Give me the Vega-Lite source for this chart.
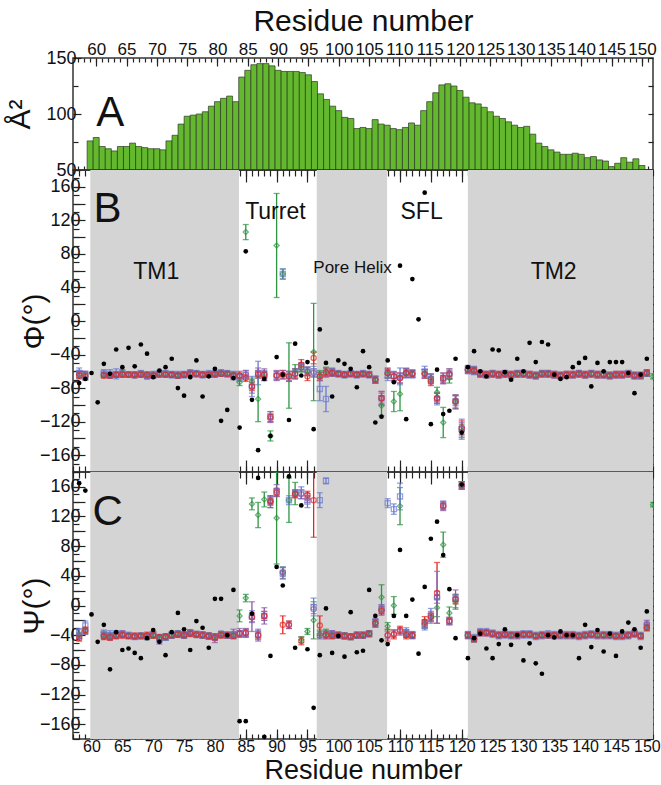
{
"$schema": "https://vega.github.io/schema/vega-lite/v6.json",
"padding": {"left": 4, "top": 5, "right": 0, "bottom": 0},
"spacing": 0,
"bounds": "flush",
"config": {
 "view": {"stroke": "#333", "strokeWidth": 1.5},
 "font": "Liberation Sans",
 "axis": {"domain": false, "grid": false, "tickColor": "#222", "tickWidth": 1.2, "labelFont": "Liberation Sans", "labelFontSize": 17, "labelColor": "#111", "titleFont": "Liberation Sans", "titleFontSize": 30, "titleFontWeight": "normal", "titleColor": "#111", "labelFlush": false, "labelOverlap": false}
},
"datasets": {
 "bars": [
{"r":59,"area":76},{"r":60,"area":79},{"r":61,"area":71},{"r":62,"area":69},{"r":63,"area":67},{"r":64,"area":71},{"r":65,"area":71},{"r":66,"area":74},{"r":67,"area":71},{"r":68,"area":70},{"r":69,"area":69},{"r":70,"area":69},{"r":71,"area":68},{"r":72,"area":76},{"r":73,"area":81},{"r":74,"area":91},{"r":75,"area":98},{"r":76,"area":99},{"r":77,"area":100},{"r":78,"area":102},{"r":79,"area":107},{"r":80,"area":111},{"r":81,"area":114},{"r":82,"area":116},{"r":83,"area":111},{"r":84,"area":133},{"r":85,"area":139},{"r":86,"area":144},{"r":87,"area":145},{"r":88,"area":145},{"r":89,"area":143},{"r":90,"area":139},{"r":91,"area":138},{"r":92,"area":138},{"r":93,"area":138},{"r":94,"area":137},{"r":95,"area":135},{"r":96,"area":129},{"r":97,"area":118},{"r":98,"area":113},{"r":99,"area":107},{"r":100,"area":103},{"r":101,"area":97},{"r":102,"area":96},{"r":103,"area":87},{"r":104,"area":88},{"r":105,"area":87},{"r":106,"area":95},{"r":107,"area":91},{"r":108,"area":90},{"r":109,"area":87},{"r":110,"area":86},{"r":111,"area":88},{"r":112,"area":92},{"r":113,"area":90},{"r":114,"area":103},{"r":115,"area":111},{"r":116,"area":119},{"r":117,"area":126},{"r":118,"area":127},{"r":119,"area":125},{"r":120,"area":121},{"r":121,"area":115},{"r":122,"area":110},{"r":123,"area":109},{"r":124,"area":106},{"r":125,"area":102},{"r":126,"area":98},{"r":127,"area":96},{"r":128,"area":93},{"r":129,"area":90},{"r":130,"area":88},{"r":131,"area":89},{"r":132,"area":82},{"r":133,"area":74},{"r":134,"area":71},{"r":135,"area":68},{"r":136,"area":66},{"r":137,"area":64},{"r":138,"area":64},{"r":139,"area":65},{"r":140,"area":64},{"r":141,"area":61},{"r":142,"area":62},{"r":143,"area":59},{"r":144,"area":58},{"r":145,"area":53},{"r":146,"area":56},{"r":147,"area":61},{"r":148,"area":57},{"r":149,"area":60},{"r":150,"area":54}
 ],
 "regions": [
{"name":"TM1","start":59.8,"end":83.9},{"name":"Pore Helix","start":96.5,"end":107.9},{"name":"TM2","start":121,"end":151}
 ],
 "ann": [
{"panel":"A","kind":"letter","t":"A","x":62.3,"y":101},
{"panel":"B","kind":"letter","t":"B","x":62.6,"y":134},
{"panel":"C","kind":"letter","t":"C","x":62.6,"y":126},
{"panel":"B","kind":"name","t":"Turret","x":89.8,"y":130},
{"panel":"B","kind":"name","t":"SFL","x":113.5,"y":130},
{"panel":"B","kind":"name","t":"TM1","x":70.5,"y":58},
{"panel":"B","kind":"name","t":"TM2","x":134.9,"y":58},
{"panel":"B","kind":"small","t":"Pore Helix","x":102.3,"y":63}
 ],
 "black": [
{"r":58,"phi":-74,"psi":165},{"r":59,"phi":-69,"psi":155},{"r":60,"phi":-62,"psi":-12},{"r":61,"phi":-97,"psi":-49},{"r":62,"phi":-51,"psi":-26},{"r":63,"phi":-63,"psi":-86},{"r":64,"phi":-34,"psi":-36},{"r":65,"phi":-55,"psi":-60},{"r":66,"phi":-32,"psi":-58},{"r":67,"phi":-54,"psi":-64},{"r":68,"phi":-28,"psi":-71},{"r":69,"phi":-39,"psi":-44},{"r":70,"phi":-67,"psi":-33},{"r":71,"phi":-59,"psi":-49},{"r":72,"phi":-55,"psi":-67},{"r":73,"phi":-45,"psi":-36},{"r":74,"phi":-80,"psi":-10},{"r":75,"phi":-89,"psi":-32},{"r":76,"phi":-67,"psi":-60},{"r":77,"phi":-47,"psi":-21},{"r":78,"phi":-90,"psi":-30},{"r":79,"phi":-66,"psi":-57},{"r":80,"phi":-57,"psi":9},{"r":81,"phi":-119,"psi":9},{"r":82,"phi":-106,"psi":-40},{"r":83,"phi":-68,"psi":21},{"r":84,"phi":-127,"psi":-156},{"r":85,"phi":83,"psi":-156},{"r":86,"phi":-94,"psi":-11},{"r":87,"phi":-154,"psi":172},{"r":88,"phi":-69,"psi":-177},{"r":89,"phi":-137,"psi":-68},{"r":90,"phi":-43,"psi":52},{"r":91,"phi":-64,"psi":27},{"r":92,"phi":-118,"psi":174},{"r":93,"phi":-27,"psi":-57},{"r":94,"phi":-65,"psi":135},{"r":95,"phi":-49,"psi":-59},{"r":96,"phi":-129,"psi":-138},{"r":97,"phi":-10,"psi":-67},{"r":98,"phi":-50,"psi":-4},{"r":99,"phi":-90,"psi":-64},{"r":100,"phi":-47,"psi":-41},{"r":101,"phi":-51,"psi":-69},{"r":102,"phi":-57,"psi":-9},{"r":103,"phi":-79,"psi":-63},{"r":104,"phi":-36,"psi":-61},{"r":105,"phi":-55,"psi":21},{"r":106,"phi":-121,"psi":-14},{"r":107,"phi":-114,"psi":-47},{"r":108,"phi":-47,"psi":-52},{"r":109,"phi":-73,"psi":-14},{"r":110,"phi":66,"psi":75},{"r":111,"phi":-117,"psi":-14},{"r":112,"phi":50,"psi":8},{"r":113,"phi":2,"psi":-65},{"r":114,"phi":153,"psi":25},{"r":115,"phi":-123,"psi":90},{"r":116,"phi":-58,"psi":113},{"r":117,"phi":-111,"psi":68},{"r":118,"phi":-107,"psi":22},{"r":119,"phi":-45,"psi":-44},{"r":120,"phi":-133,"psi":163},{"r":121,"phi":-55,"psi":-71},{"r":122,"phi":-36,"psi":-44},{"r":123,"phi":-60,"psi":-38},{"r":124,"phi":-66,"psi":-58},{"r":125,"phi":-34,"psi":-71},{"r":126,"phi":-35,"psi":-52},{"r":127,"phi":-61,"psi":-32},{"r":128,"phi":-70,"psi":-53},{"r":129,"phi":-45,"psi":-40},{"r":130,"phi":-60,"psi":-74},{"r":131,"phi":-26,"psi":-51},{"r":132,"phi":-49,"psi":-78},{"r":133,"phi":-25,"psi":-92},{"r":134,"phi":-28,"psi":-40},{"r":135,"phi":-64,"psi":-43},{"r":136,"phi":-69,"psi":-35},{"r":137,"phi":-67,"psi":-40},{"r":138,"phi":-55,"psi":-40},{"r":139,"phi":-50,"psi":-71},{"r":140,"phi":-44,"psi":-26},{"r":141,"phi":-78,"psi":-56},{"r":142,"phi":-50,"psi":-33},{"r":143,"phi":-60,"psi":-62},{"r":144,"phi":-49,"psi":-38},{"r":145,"phi":-49,"psi":-68},{"r":146,"phi":-49,"psi":-35},{"r":147,"phi":-62,"psi":-23},{"r":148,"phi":-86,"psi":-32},{"r":149,"phi":-64,"psi":-57},{"r":150,"phi":-45,"psi":-8}
 ],
 "series": [
{"r":58,"s":"g","phi":-64,"pe":4,"psi":-40,"qe":4},{"r":58,"s":"r","phi":-65,"pe":4,"psi":-44,"qe":4},{"r":58,"s":"b","phi":-62,"pe":6,"psi":-36,"qe":5},{"r":58,"s":"p","phi":-63,"pe":4,"psi":-41,"qe":4},
{"r":59,"s":"g","phi":-66,"pe":4,"psi":-34,"qe":4},{"r":59,"s":"r","phi":-66,"pe":4,"psi":-33,"qe":4},{"r":59,"s":"b","phi":-65,"pe":5,"psi":-27,"qe":6},{"r":59,"s":"p","phi":-64,"pe":4,"psi":-35,"qe":4},
{"r":62,"s":"g","phi":-64,"pe":3,"psi":-40,"qe":4},{"r":62,"s":"r","phi":-65,"pe":3,"psi":-42,"qe":4},{"r":62,"s":"b","phi":-62,"pe":4,"psi":-38,"qe":5},{"r":62,"s":"p","phi":-64,"pe":3,"psi":-40,"qe":4},
{"r":63,"s":"g","phi":-65,"pe":3,"psi":-41,"qe":4},{"r":63,"s":"r","phi":-65,"pe":3,"psi":-43,"qe":4},{"r":63,"s":"b","phi":-63,"pe":5,"psi":-40,"qe":6},{"r":63,"s":"p","phi":-65,"pe":3,"psi":-42,"qe":4},
{"r":64,"s":"g","phi":-64,"pe":3,"psi":-40,"qe":4},{"r":64,"s":"r","phi":-64,"pe":3,"psi":-41,"qe":4},{"r":64,"s":"b","phi":-63,"pe":6,"psi":-39,"qe":5},{"r":64,"s":"p","phi":-64,"pe":3,"psi":-40,"qe":4},
{"r":65,"s":"g","phi":-62,"pe":4,"psi":-39,"qe":4},{"r":65,"s":"r","phi":-64,"pe":3,"psi":-40,"qe":4},{"r":65,"s":"b","phi":-63,"pe":4,"psi":-39,"qe":4},{"r":65,"s":"p","phi":-63,"pe":3,"psi":-38,"qe":4},
{"r":66,"s":"g","phi":-64,"pe":3,"psi":-41,"qe":3},{"r":66,"s":"r","phi":-64,"pe":3,"psi":-41,"qe":4},{"r":66,"s":"b","phi":-64,"pe":3,"psi":-40,"qe":4},{"r":66,"s":"p","phi":-64,"pe":3,"psi":-41,"qe":3},
{"r":67,"s":"g","phi":-64,"pe":3,"psi":-42,"qe":3},{"r":67,"s":"r","phi":-64,"pe":3,"psi":-41,"qe":4},{"r":67,"s":"b","phi":-64,"pe":3,"psi":-42,"qe":4},{"r":67,"s":"p","phi":-65,"pe":3,"psi":-42,"qe":3},
{"r":68,"s":"g","phi":-63,"pe":3,"psi":-41,"qe":3},{"r":68,"s":"r","phi":-64,"pe":3,"psi":-41,"qe":4},{"r":68,"s":"b","phi":-63,"pe":4,"psi":-41,"qe":4},{"r":68,"s":"p","phi":-63,"pe":3,"psi":-41,"qe":3},
{"r":69,"s":"g","phi":-64,"pe":3,"psi":-42,"qe":4},{"r":69,"s":"r","phi":-64,"pe":3,"psi":-40,"qe":4},{"r":69,"s":"b","phi":-65,"pe":4,"psi":-42,"qe":4},{"r":69,"s":"p","phi":-66,"pe":3,"psi":-42,"qe":3},
{"r":70,"s":"g","phi":-64,"pe":3,"psi":-40,"qe":4},{"r":70,"s":"r","phi":-65,"pe":3,"psi":-40,"qe":4},{"r":70,"s":"b","phi":-64,"pe":4,"psi":-39,"qe":4},{"r":70,"s":"p","phi":-65,"pe":3,"psi":-40,"qe":3},
{"r":71,"s":"g","phi":-63,"pe":3,"psi":-44,"qe":4},{"r":71,"s":"r","phi":-63,"pe":3,"psi":-43,"qe":4},{"r":71,"s":"b","phi":-63,"pe":4,"psi":-45,"qe":5},{"r":71,"s":"p","phi":-64,"pe":3,"psi":-46,"qe":6},
{"r":72,"s":"g","phi":-63,"pe":3,"psi":-43,"qe":4},{"r":72,"s":"r","phi":-64,"pe":3,"psi":-42,"qe":4},{"r":72,"s":"b","phi":-63,"pe":4,"psi":-43,"qe":4},{"r":72,"s":"p","phi":-63,"pe":3,"psi":-42,"qe":3},
{"r":73,"s":"g","phi":-64,"pe":3,"psi":-40,"qe":4},{"r":73,"s":"r","phi":-64,"pe":3,"psi":-40,"qe":4},{"r":73,"s":"b","phi":-64,"pe":4,"psi":-40,"qe":4},{"r":73,"s":"p","phi":-64,"pe":3,"psi":-40,"qe":3},
{"r":74,"s":"g","phi":-65,"pe":3,"psi":-38,"qe":4},{"r":74,"s":"r","phi":-65,"pe":3,"psi":-39,"qe":4},{"r":74,"s":"b","phi":-64,"pe":4,"psi":-38,"qe":4},{"r":74,"s":"p","phi":-65,"pe":3,"psi":-38,"qe":3},
{"r":75,"s":"g","phi":-64,"pe":3,"psi":-40,"qe":4},{"r":75,"s":"r","phi":-64,"pe":3,"psi":-40,"qe":4},{"r":75,"s":"b","phi":-64,"pe":4,"psi":-40,"qe":4},{"r":75,"s":"p","phi":-64,"pe":3,"psi":-39,"qe":3},
{"r":76,"s":"g","phi":-62,"pe":3,"psi":-37,"qe":4},{"r":76,"s":"r","phi":-63,"pe":3,"psi":-38,"qe":4},{"r":76,"s":"b","phi":-62,"pe":4,"psi":-37,"qe":4},{"r":76,"s":"p","phi":-62,"pe":3,"psi":-36,"qe":3},
{"r":77,"s":"g","phi":-63,"pe":3,"psi":-39,"qe":4},{"r":77,"s":"r","phi":-63,"pe":3,"psi":-39,"qe":4},{"r":77,"s":"b","phi":-63,"pe":4,"psi":-39,"qe":4},{"r":77,"s":"p","phi":-63,"pe":3,"psi":-40,"qe":3},
{"r":78,"s":"g","phi":-64,"pe":3,"psi":-40,"qe":4},{"r":78,"s":"r","phi":-64,"pe":3,"psi":-40,"qe":4},{"r":78,"s":"b","phi":-64,"pe":4,"psi":-40,"qe":4},{"r":78,"s":"p","phi":-64,"pe":3,"psi":-39,"qe":3},
{"r":79,"s":"g","phi":-64,"pe":3,"psi":-41,"qe":4},{"r":79,"s":"r","phi":-64,"pe":3,"psi":-41,"qe":4},{"r":79,"s":"b","phi":-63,"pe":4,"psi":-41,"qe":4},{"r":79,"s":"p","phi":-64,"pe":3,"psi":-42,"qe":3},
{"r":80,"s":"g","phi":-63,"pe":3,"psi":-42,"qe":4},{"r":80,"s":"r","phi":-63,"pe":3,"psi":-43,"qe":4},{"r":80,"s":"b","phi":-63,"pe":4,"psi":-42,"qe":4},{"r":80,"s":"p","phi":-64,"pe":3,"psi":-44,"qe":6},
{"r":81,"s":"g","phi":-62,"pe":3,"psi":-39,"qe":4},{"r":81,"s":"r","phi":-63,"pe":3,"psi":-40,"qe":4},{"r":81,"s":"b","phi":-62,"pe":4,"psi":-39,"qe":4},{"r":81,"s":"p","phi":-62,"pe":3,"psi":-38,"qe":3},
{"r":82,"s":"g","phi":-63,"pe":3,"psi":-40,"qe":4},{"r":82,"s":"r","phi":-63,"pe":3,"psi":-40,"qe":4},{"r":82,"s":"b","phi":-63,"pe":4,"psi":-40,"qe":4},{"r":82,"s":"p","phi":-63,"pe":3,"psi":-40,"qe":3},
{"r":83,"s":"g","phi":-64,"pe":3,"psi":-40,"qe":4},{"r":83,"s":"r","phi":-65,"pe":3,"psi":-41,"qe":4},{"r":83,"s":"b","phi":-64,"pe":4,"psi":-40,"qe":4},{"r":83,"s":"p","phi":-66,"pe":4,"psi":-38,"qe":6},
{"r":84,"s":"g","phi":-73,"pe":4,"psi":-14,"qe":8},{"r":84,"s":"r","phi":-65,"pe":3,"psi":-38,"qe":4},{"r":84,"s":"b","phi":-67,"pe":4,"psi":-38,"qe":4},{"r":84,"s":"p","phi":-66,"pe":6,"psi":-37,"qe":6},
{"r":85,"s":"g","phi":106,"pe":9,"psi":10,"qe":5},{"r":85,"s":"r","phi":-68,"pe":4,"psi":-37,"qe":5},{"r":85,"s":"b","phi":-64,"pe":5,"psi":-37,"qe":5},{"r":85,"s":"p","phi":-64,"pe":5,"psi":-37,"qe":6},
{"r":86,"s":"g","phi":-72,"pe":4,"psi":137,"qe":8},{"r":86,"s":"r","phi":-78,"pe":5,"psi":-16,"qe":6},{"r":86,"s":"b","phi":-78,"pe":12,"psi":-15,"qe":8},{"r":86,"s":"p","phi":-78,"pe":8,"psi":-15,"qe":20},
{"r":87,"s":"g","phi":-93,"pe":27,"psi":122,"qe":17},{"r":87,"s":"r","phi":-64,"pe":4,"psi":-40,"qe":5},{"r":87,"s":"b","phi":-62,"pe":14,"psi":-40,"qe":6},{"r":87,"s":"p","phi":-62,"pe":6,"psi":-40,"qe":8},
{"r":88,"s":"g","phi":-66,"pe":5,"psi":143,"qe":10},{"r":88,"s":"r","phi":-64,"pe":4,"psi":-14,"qe":6},{"r":88,"s":"b","phi":-64,"pe":5,"psi":-14,"qe":6},{"r":88,"s":"p","phi":-64,"pe":7,"psi":-14,"qe":11},
{"r":89,"s":"g","phi":-137,"pe":6,"psi":140,"qe":8},{"r":89,"s":"r","phi":-114,"pe":6,"psi":141,"qe":5},{"r":89,"s":"b","phi":-114,"pe":6,"psi":141,"qe":6},{"r":89,"s":"p","phi":-116,"pe":5,"psi":140,"qe":8},
{"r":90,"s":"g","phi":90,"pe":62,"psi":118,"qe":62},{"r":90,"s":"r","phi":-65,"pe":5,"psi":152,"qe":5},{"r":90,"s":"b","phi":-65,"pe":5,"psi":153,"qe":5},{"r":90,"s":"p","phi":-65,"pe":6,"psi":155,"qe":8},
{"r":91,"s":"g","phi":56,"pe":6,"psi":44,"qe":8},{"r":91,"s":"r","phi":-64,"pe":5,"psi":-26,"qe":12},{"r":91,"s":"b","phi":56,"pe":6,"psi":44,"qe":8},{"r":91,"s":"p","phi":-64,"pe":5,"psi":45,"qe":6},
{"r":92,"s":"g","phi":-65,"pe":39,"psi":142,"qe":30},{"r":92,"s":"r","phi":-66,"pe":6,"psi":-26,"qe":5},{"r":92,"s":"b","phi":-66,"pe":6,"psi":142,"qe":6},{"r":92,"s":"p","phi":-66,"pe":5,"psi":-26,"qe":5},
{"r":93,"s":"g","phi":-60,"pe":8,"psi":151,"qe":15},{"r":93,"s":"r","phi":-63,"pe":6,"psi":150,"qe":5},{"r":93,"s":"b","phi":-62,"pe":5,"psi":151,"qe":5},{"r":93,"s":"p","phi":-63,"pe":6,"psi":151,"qe":5},
{"r":94,"s":"g","phi":-56,"pe":5,"psi":-46,"qe":4},{"r":94,"s":"r","phi":-52,"pe":6,"psi":-48,"qe":5},{"r":94,"s":"b","phi":-55,"pe":5,"psi":152,"qe":8},{"r":94,"s":"p","phi":-55,"pe":5,"psi":150,"qe":6},
{"r":95,"s":"g","phi":-60,"pe":5,"psi":-35,"qe":4},{"r":95,"s":"r","phi":-66,"pe":5,"psi":149,"qe":5},{"r":95,"s":"b","phi":-60,"pe":5,"psi":140,"qe":8},{"r":95,"s":"p","phi":-60,"pe":5,"psi":145,"qe":6},
{"r":96,"s":"g","phi":-37,"pe":58,"psi":-20,"qe":25},{"r":96,"s":"r","phi":-44,"pe":7,"psi":142,"qe":50},{"r":96,"s":"b","phi":-60,"pe":6,"psi":-2,"qe":12},{"r":96,"s":"p","phi":-62,"pe":5,"psi":-5,"qe":6},
{"r":97,"s":"g","phi":-64,"pe":5,"psi":-38,"qe":5},{"r":97,"s":"r","phi":-66,"pe":5,"psi":-27,"qe":13},{"r":97,"s":"b","phi":-81,"pe":14,"psi":142,"qe":10},{"r":97,"s":"p","phi":-66,"pe":5,"psi":-40,"qe":5},
{"r":98,"s":"g","phi":-60,"pe":5,"psi":-37,"qe":5},{"r":98,"s":"r","phi":-61,"pe":5,"psi":-40,"qe":5},{"r":98,"s":"b","phi":-93,"pe":15,"psi":168,"qe":4},{"r":98,"s":"p","phi":-62,"pe":5,"psi":-39,"qe":5},
{"r":99,"s":"g","phi":-61,"pe":4,"psi":-40,"qe":4},{"r":99,"s":"r","phi":-62,"pe":4,"psi":-41,"qe":4},{"r":99,"s":"b","phi":-61,"pe":5,"psi":-39,"qe":5},{"r":99,"s":"p","phi":-61,"pe":4,"psi":-38,"qe":4},
{"r":100,"s":"g","phi":-63,"pe":3,"psi":-40,"qe":4},{"r":100,"s":"r","phi":-63,"pe":3,"psi":-40,"qe":4},{"r":100,"s":"b","phi":-63,"pe":4,"psi":-40,"qe":4},{"r":100,"s":"p","phi":-63,"pe":3,"psi":-40,"qe":3},
{"r":101,"s":"g","phi":-64,"pe":3,"psi":-41,"qe":4},{"r":101,"s":"r","phi":-64,"pe":3,"psi":-41,"qe":4},{"r":101,"s":"b","phi":-64,"pe":4,"psi":-41,"qe":4},{"r":101,"s":"p","phi":-64,"pe":3,"psi":-41,"qe":3},
{"r":102,"s":"g","phi":-63,"pe":3,"psi":-42,"qe":4},{"r":102,"s":"r","phi":-63,"pe":3,"psi":-42,"qe":4},{"r":102,"s":"b","phi":-63,"pe":4,"psi":-42,"qe":4},{"r":102,"s":"p","phi":-63,"pe":3,"psi":-42,"qe":3},
{"r":103,"s":"g","phi":-64,"pe":3,"psi":-40,"qe":4},{"r":103,"s":"r","phi":-64,"pe":3,"psi":-40,"qe":4},{"r":103,"s":"b","phi":-64,"pe":4,"psi":-40,"qe":4},{"r":103,"s":"p","phi":-64,"pe":3,"psi":-40,"qe":3},
{"r":104,"s":"g","phi":-63,"pe":3,"psi":-40,"qe":4},{"r":104,"s":"r","phi":-63,"pe":3,"psi":-40,"qe":4},{"r":104,"s":"b","phi":-63,"pe":4,"psi":-40,"qe":4},{"r":104,"s":"p","phi":-63,"pe":3,"psi":-40,"qe":3},
{"r":105,"s":"g","phi":-64,"pe":3,"psi":-38,"qe":4},{"r":105,"s":"r","phi":-64,"pe":3,"psi":-38,"qe":4},{"r":105,"s":"b","phi":-64,"pe":4,"psi":-38,"qe":4},{"r":105,"s":"p","phi":-64,"pe":3,"psi":-38,"qe":3},
{"r":106,"s":"g","phi":-70,"pe":4,"psi":-24,"qe":5},{"r":106,"s":"r","phi":-70,"pe":4,"psi":-24,"qe":5},{"r":106,"s":"b","phi":-70,"pe":4,"psi":-23,"qe":5},{"r":106,"s":"p","phi":-70,"pe":4,"psi":-23,"qe":5},
{"r":107,"s":"g","phi":-101,"pe":12,"psi":11,"qe":17},{"r":107,"s":"r","phi":-92,"pe":8,"psi":-7,"qe":6},{"r":107,"s":"b","phi":-92,"pe":8,"psi":-5,"qe":6},{"r":107,"s":"p","phi":-92,"pe":6,"psi":-5,"qe":6},
{"r":108,"s":"g","phi":-63,"pe":5,"psi":-28,"qe":5},{"r":108,"s":"r","phi":-62,"pe":6,"psi":-40,"qe":8},{"r":108,"s":"b","phi":-65,"pe":6,"psi":138,"qe":6},{"r":108,"s":"p","phi":-62,"pe":5,"psi":-40,"qe":5},
{"r":109,"s":"g","phi":-96,"pe":12,"psi":0,"qe":12},{"r":109,"s":"r","phi":-66,"pe":5,"psi":-39,"qe":6},{"r":109,"s":"b","phi":-66,"pe":6,"psi":130,"qe":7},{"r":109,"s":"p","phi":-66,"pe":5,"psi":-38,"qe":5},
{"r":110,"s":"g","phi":-87,"pe":20,"psi":134,"qe":25},{"r":110,"s":"r","phi":-68,"pe":6,"psi":-33,"qe":5},{"r":110,"s":"b","phi":-66,"pe":10,"psi":147,"qe":18},{"r":110,"s":"p","phi":-68,"pe":6,"psi":-35,"qe":5},
{"r":111,"s":"g","phi":-62,"pe":5,"psi":-38,"qe":5},{"r":111,"s":"r","phi":-62,"pe":5,"psi":-40,"qe":5},{"r":111,"s":"b","phi":-62,"pe":6,"psi":-36,"qe":6},{"r":111,"s":"p","phi":-62,"pe":5,"psi":-38,"qe":5},
{"r":112,"s":"g","phi":-63,"pe":4,"psi":-40,"qe":4},{"r":112,"s":"r","phi":-63,"pe":4,"psi":-40,"qe":4},{"r":112,"s":"b","phi":-63,"pe":5,"psi":-40,"qe":5},{"r":112,"s":"p","phi":-63,"pe":4,"psi":-40,"qe":4},
{"r":114,"s":"g","phi":-63,"pe":5,"psi":-25,"qe":6},{"r":114,"s":"r","phi":-63,"pe":5,"psi":-22,"qe":7},{"r":114,"s":"b","phi":-60,"pe":6,"psi":-27,"qe":6},{"r":114,"s":"p","phi":-63,"pe":5,"psi":-25,"qe":5},
{"r":115,"s":"g","phi":-68,"pe":5,"psi":-16,"qe":5},{"r":115,"s":"r","phi":-72,"pe":5,"psi":-16,"qe":6},{"r":115,"s":"b","phi":-69,"pe":6,"psi":-14,"qe":10},{"r":115,"s":"p","phi":-69,"pe":5,"psi":-14,"qe":6},
{"r":116,"s":"g","phi":-85,"pe":6,"psi":-3,"qe":12},{"r":116,"s":"r","phi":-92,"pe":6,"psi":17,"qe":41},{"r":116,"s":"b","phi":-93,"pe":7,"psi":11,"qe":35},{"r":116,"s":"p","phi":-92,"pe":6,"psi":11,"qe":8},
{"r":117,"s":"g","phi":-121,"pe":18,"psi":82,"qe":17},{"r":117,"s":"r","phi":-68,"pe":6,"psi":135,"qe":5},{"r":117,"s":"b","phi":-68,"pe":6,"psi":135,"qe":6},{"r":117,"s":"p","phi":-70,"pe":5,"psi":133,"qe":5},
{"r":118,"s":"g","phi":-68,"pe":6,"psi":-10,"qe":8},{"r":118,"s":"r","phi":-63,"pe":6,"psi":-21,"qe":5},{"r":118,"s":"b","phi":-63,"pe":6,"psi":-21,"qe":5},{"r":118,"s":"p","phi":-64,"pe":5,"psi":-21,"qe":4},
{"r":119,"s":"g","phi":-97,"pe":8,"psi":5,"qe":10},{"r":119,"s":"r","phi":-96,"pe":8,"psi":8,"qe":6},{"r":119,"s":"b","phi":-96,"pe":8,"psi":9,"qe":6},{"r":119,"s":"p","phi":-95,"pe":6,"psi":9,"qe":12},
{"r":120,"s":"g","phi":-131,"pe":8,"psi":162,"qe":5},{"r":120,"s":"r","phi":-127,"pe":8,"psi":162,"qe":5},{"r":120,"s":"b","phi":-129,"pe":12,"psi":162,"qe":5},{"r":120,"s":"p","phi":-129,"pe":8,"psi":162,"qe":5},
{"r":121,"s":"g","phi":-58,"pe":4,"psi":-40,"qe":4},{"r":121,"s":"r","phi":-58,"pe":4,"psi":-40,"qe":4},{"r":121,"s":"b","phi":-58,"pe":5,"psi":-40,"qe":5},{"r":121,"s":"p","phi":-58,"pe":4,"psi":-40,"qe":4},
{"r":122,"s":"g","phi":-59,"pe":4,"psi":-45,"qe":4},{"r":122,"s":"r","phi":-59,"pe":4,"psi":-45,"qe":4},{"r":122,"s":"b","phi":-59,"pe":5,"psi":-44,"qe":5},{"r":122,"s":"p","phi":-59,"pe":4,"psi":-45,"qe":4},
{"r":123,"s":"g","phi":-63,"pe":3,"psi":-36,"qe":3},{"r":123,"s":"r","phi":-63,"pe":4,"psi":-37,"qe":4},{"r":123,"s":"b","phi":-63,"pe":4,"psi":-36,"qe":5},{"r":123,"s":"p","phi":-63,"pe":3,"psi":-36,"qe":3},
{"r":124,"s":"g","phi":-64,"pe":3,"psi":-36,"qe":3},{"r":124,"s":"r","phi":-64,"pe":4,"psi":-37,"qe":4},{"r":124,"s":"b","phi":-64,"pe":4,"psi":-36,"qe":5},{"r":124,"s":"p","phi":-64,"pe":3,"psi":-36,"qe":3},
{"r":125,"s":"g","phi":-63,"pe":3,"psi":-38,"qe":3},{"r":125,"s":"r","phi":-63,"pe":4,"psi":-38,"qe":4},{"r":125,"s":"b","phi":-63,"pe":4,"psi":-38,"qe":5},{"r":125,"s":"p","phi":-63,"pe":3,"psi":-38,"qe":3},
{"r":126,"s":"g","phi":-64,"pe":3,"psi":-40,"qe":3},{"r":126,"s":"r","phi":-64,"pe":4,"psi":-40,"qe":4},{"r":126,"s":"b","phi":-64,"pe":4,"psi":-40,"qe":5},{"r":126,"s":"p","phi":-64,"pe":3,"psi":-40,"qe":3},
{"r":127,"s":"g","phi":-63,"pe":3,"psi":-39,"qe":3},{"r":127,"s":"r","phi":-63,"pe":4,"psi":-39,"qe":4},{"r":127,"s":"b","phi":-63,"pe":4,"psi":-39,"qe":5},{"r":127,"s":"p","phi":-63,"pe":3,"psi":-39,"qe":3},
{"r":128,"s":"g","phi":-64,"pe":3,"psi":-40,"qe":3},{"r":128,"s":"r","phi":-64,"pe":4,"psi":-40,"qe":4},{"r":128,"s":"b","phi":-64,"pe":4,"psi":-40,"qe":5},{"r":128,"s":"p","phi":-64,"pe":3,"psi":-40,"qe":3},
{"r":129,"s":"g","phi":-63,"pe":3,"psi":-40,"qe":3},{"r":129,"s":"r","phi":-63,"pe":4,"psi":-40,"qe":4},{"r":129,"s":"b","phi":-63,"pe":4,"psi":-40,"qe":5},{"r":129,"s":"p","phi":-63,"pe":3,"psi":-40,"qe":3},
{"r":130,"s":"g","phi":-63,"pe":3,"psi":-39,"qe":3},{"r":130,"s":"r","phi":-63,"pe":4,"psi":-39,"qe":4},{"r":130,"s":"b","phi":-63,"pe":4,"psi":-39,"qe":5},{"r":130,"s":"p","phi":-63,"pe":3,"psi":-39,"qe":3},
{"r":131,"s":"g","phi":-64,"pe":3,"psi":-39,"qe":3},{"r":131,"s":"r","phi":-64,"pe":4,"psi":-39,"qe":4},{"r":131,"s":"b","phi":-64,"pe":4,"psi":-39,"qe":5},{"r":131,"s":"p","phi":-64,"pe":3,"psi":-39,"qe":3},
{"r":132,"s":"g","phi":-65,"pe":3,"psi":-41,"qe":3},{"r":132,"s":"r","phi":-65,"pe":4,"psi":-41,"qe":4},{"r":132,"s":"b","phi":-65,"pe":4,"psi":-41,"qe":5},{"r":132,"s":"p","phi":-65,"pe":3,"psi":-41,"qe":3},
{"r":133,"s":"g","phi":-63,"pe":3,"psi":-40,"qe":3},{"r":133,"s":"r","phi":-63,"pe":4,"psi":-40,"qe":4},{"r":133,"s":"b","phi":-63,"pe":4,"psi":-40,"qe":5},{"r":133,"s":"p","phi":-63,"pe":3,"psi":-40,"qe":3},
{"r":134,"s":"g","phi":-63,"pe":3,"psi":-40,"qe":3},{"r":134,"s":"r","phi":-63,"pe":4,"psi":-40,"qe":4},{"r":134,"s":"b","phi":-63,"pe":4,"psi":-39,"qe":5},{"r":134,"s":"p","phi":-63,"pe":3,"psi":-40,"qe":3},
{"r":135,"s":"g","phi":-64,"pe":3,"psi":-40,"qe":3},{"r":135,"s":"r","phi":-64,"pe":4,"psi":-40,"qe":4},{"r":135,"s":"b","phi":-64,"pe":4,"psi":-40,"qe":5},{"r":135,"s":"p","phi":-64,"pe":3,"psi":-40,"qe":3},
{"r":136,"s":"g","phi":-65,"pe":3,"psi":-40,"qe":3},{"r":136,"s":"r","phi":-65,"pe":4,"psi":-40,"qe":4},{"r":136,"s":"b","phi":-65,"pe":4,"psi":-40,"qe":5},{"r":136,"s":"p","phi":-65,"pe":3,"psi":-40,"qe":3},
{"r":137,"s":"g","phi":-64,"pe":3,"psi":-40,"qe":3},{"r":137,"s":"r","phi":-64,"pe":4,"psi":-40,"qe":4},{"r":137,"s":"b","phi":-64,"pe":4,"psi":-40,"qe":5},{"r":137,"s":"p","phi":-64,"pe":3,"psi":-40,"qe":3},
{"r":138,"s":"g","phi":-64,"pe":3,"psi":-40,"qe":3},{"r":138,"s":"r","phi":-64,"pe":4,"psi":-40,"qe":4},{"r":138,"s":"b","phi":-64,"pe":4,"psi":-40,"qe":5},{"r":138,"s":"p","phi":-64,"pe":3,"psi":-40,"qe":3},
{"r":139,"s":"g","phi":-63,"pe":3,"psi":-41,"qe":3},{"r":139,"s":"r","phi":-63,"pe":4,"psi":-41,"qe":4},{"r":139,"s":"b","phi":-63,"pe":4,"psi":-41,"qe":5},{"r":139,"s":"p","phi":-63,"pe":3,"psi":-41,"qe":3},
{"r":140,"s":"g","phi":-64,"pe":3,"psi":-40,"qe":3},{"r":140,"s":"r","phi":-64,"pe":4,"psi":-40,"qe":4},{"r":140,"s":"b","phi":-64,"pe":4,"psi":-40,"qe":5},{"r":140,"s":"p","phi":-64,"pe":3,"psi":-40,"qe":3},
{"r":141,"s":"g","phi":-63,"pe":3,"psi":-39,"qe":3},{"r":141,"s":"r","phi":-63,"pe":4,"psi":-39,"qe":4},{"r":141,"s":"b","phi":-63,"pe":4,"psi":-39,"qe":5},{"r":141,"s":"p","phi":-63,"pe":3,"psi":-39,"qe":3},
{"r":142,"s":"g","phi":-64,"pe":3,"psi":-40,"qe":3},{"r":142,"s":"r","phi":-64,"pe":4,"psi":-40,"qe":4},{"r":142,"s":"b","phi":-64,"pe":4,"psi":-40,"qe":5},{"r":142,"s":"p","phi":-64,"pe":3,"psi":-40,"qe":3},
{"r":143,"s":"g","phi":-64,"pe":3,"psi":-40,"qe":3},{"r":143,"s":"r","phi":-64,"pe":4,"psi":-40,"qe":4},{"r":143,"s":"b","phi":-64,"pe":4,"psi":-40,"qe":5},{"r":143,"s":"p","phi":-64,"pe":3,"psi":-40,"qe":3},
{"r":144,"s":"g","phi":-65,"pe":3,"psi":-40,"qe":3},{"r":144,"s":"r","phi":-65,"pe":4,"psi":-40,"qe":4},{"r":144,"s":"b","phi":-65,"pe":4,"psi":-40,"qe":5},{"r":144,"s":"p","phi":-65,"pe":3,"psi":-40,"qe":3},
{"r":145,"s":"g","phi":-64,"pe":3,"psi":-41,"qe":3},{"r":145,"s":"r","phi":-64,"pe":4,"psi":-41,"qe":4},{"r":145,"s":"b","phi":-64,"pe":4,"psi":-41,"qe":5},{"r":145,"s":"p","phi":-64,"pe":3,"psi":-41,"qe":3},
{"r":146,"s":"g","phi":-64,"pe":3,"psi":-41,"qe":3},{"r":146,"s":"r","phi":-64,"pe":4,"psi":-41,"qe":4},{"r":146,"s":"b","phi":-64,"pe":4,"psi":-41,"qe":5},{"r":146,"s":"p","phi":-64,"pe":3,"psi":-41,"qe":3},
{"r":147,"s":"g","phi":-63,"pe":3,"psi":-40,"qe":3},{"r":147,"s":"r","phi":-63,"pe":4,"psi":-40,"qe":4},{"r":147,"s":"b","phi":-63,"pe":4,"psi":-40,"qe":5},{"r":147,"s":"p","phi":-63,"pe":3,"psi":-40,"qe":3},
{"r":148,"s":"g","phi":-65,"pe":3,"psi":-38,"qe":3},{"r":148,"s":"r","phi":-65,"pe":4,"psi":-38,"qe":4},{"r":148,"s":"b","phi":-65,"pe":4,"psi":-38,"qe":5},{"r":148,"s":"p","phi":-65,"pe":3,"psi":-38,"qe":3},
{"r":149,"s":"g","phi":-65,"pe":3,"psi":-41,"qe":3},{"r":149,"s":"r","phi":-65,"pe":4,"psi":-41,"qe":4},{"r":149,"s":"b","phi":-65,"pe":4,"psi":-41,"qe":5},{"r":149,"s":"p","phi":-65,"pe":3,"psi":-41,"qe":3},
{"r":150,"s":"g","phi":-62,"pe":4,"psi":-30,"qe":4},{"r":150,"s":"r","phi":-62,"pe":4,"psi":-30,"qe":4},{"r":150,"s":"b","phi":-62,"pe":4,"psi":-28,"qe":5},{"r":150,"s":"p","phi":-62,"pe":3,"psi":-25,"qe":5},
{"r":151,"s":"g","phi":-66,"pe":3,"psi":136,"qe":3}
 ]
},
"vconcat": [
 {
  "width": 580, "height": 112,
  "resolve": {"axis": {"x": "independent", "y": "independent"}},
  "layer": [
   {"data": {"name": "bars"},
    "mark": {"type": "bar", "width": 6, "fill": "#63b82e", "stroke": "#2b3a22", "strokeWidth": 0.7},
    "encoding": {
     "x": {"field": "r", "type": "quantitative", "scale": {"domain": [57, 151], "nice": false, "zero": false},
      "axis": {"orient": "top", "values": [60,65,70,75,80,85,90,95,100,105,110,115,120,125,130,135,140,145,150], "tickSize": -8, "labelPadding": 8, "labelFontSize": 17, "title": "Residue number", "titlePadding": 4}},
     "y": {"field": "area", "type": "quantitative", "scale": {"domain": [50, 150], "nice": false, "zero": false},
      "axis": {"orient": "left", "values": [50, 100, 150], "tickSize": -8, "labelPadding": 5, "labelFontSize": 18, "title": "Å²", "titleX": -38}},
     "y2": {"datum": 50}
    }},
   {"data": {"name": "ann"}, "transform": [{"filter": "datum.panel == 'A'"}],
    "mark": {"type": "text", "fontSize": 42, "font": "Liberation Sans", "color": "#111"},
    "encoding": {
     "x": {"field": "x", "type": "quantitative", "scale": {"domain": [57, 151], "nice": false, "zero": false},
      "axis": {"orient": "top", "tickCount": 94, "tickSize": -4, "labels": false, "title": null}},
     "y": {"field": "y", "type": "quantitative", "scale": {"domain": [50, 150], "nice": false, "zero": false},
      "axis": {"orient": "left", "values": [75, 125], "tickSize": -5, "labels": false, "title": null}},
     "text": {"field": "t"}
    }},
   {"data": {"name": "bars"},
    "mark": {"type": "point", "opacity": 0},
    "encoding": {
     "x": {"field": "r", "type": "quantitative", "scale": {"domain": [57, 151], "nice": false, "zero": false},
      "axis": {"orient": "bottom", "tickCount": 94, "tickSize": -4, "labels": false, "title": null}},
     "y": {"field": "area", "type": "quantitative", "scale": {"domain": [50, 150], "nice": false, "zero": false},
      "axis": {"orient": "right", "values": [50, 75, 100, 125, 150], "tickSize": -5, "labels": false, "title": null}}
    }}
  ]
 },
 {
  "width": 580, "height": 302,
  "resolve": {"axis": {"x": "independent", "y": "independent"}},
  "layer": [
   {"data": {"name": "regions"},
    "mark": {"type": "rect", "color": "#d4d4d4"},
    "encoding": {
     "x": {"field": "start", "type": "quantitative", "scale": {"domain": [57, 151], "nice": false, "zero": false},
      "axis": {"orient": "top", "values": [60,65,70,75,80,85,90,95,100,105,110,115,120,125,130,135,140,145,150], "tickSize": -12, "labels": false, "title": null}},
     "x2": {"field": "end"}
    }},
   {"data": {"name": "series"},
    "mark": {"type": "errorbar", "ticks": {"size": 6}, "thickness": 1.3, "clip": true},
    "encoding": {
     "x": {"field": "r", "type": "quantitative", "scale": {"domain": [57, 151], "nice": false, "zero": false},
      "axis": {"orient": "top", "tickCount": 94, "tickSize": -6, "labels": false, "title": null}},
     "y": {"field": "phi", "type": "quantitative", "scale": {"domain": [-180, 180], "nice": false, "zero": false},
      "axis": {"orient": "left", "values": [-160,-140,-120,-100,-80,-60,-40,-20,0,20,40,60,80,100,120,140,160], "labelExpr": "datum.value % 40 == 0 ? datum.label : ''", "tickSize": -12, "labelPadding": 5, "labelFontSize": 18, "title": "Φ(°)", "titleX": -24}},
     "yError": {"field": "pe"},
     "color": {"field": "s", "type": "nominal", "scale": {"domain": ["g", "r", "b", "p"], "range": ["#2e9444", "#e8251d", "#6a7ad0", "#8b5aa8"]}, "legend": null}
    }},
   {"data": {"name": "series"},
    "mark": {"type": "point", "filled": false, "size": 26, "strokeWidth": 1.3, "clip": true},
    "encoding": {
     "x": {"field": "r", "type": "quantitative", "scale": {"domain": [57, 151], "nice": false, "zero": false},
      "axis": {"orient": "bottom", "values": [60,65,70,75,80,85,90,95,100,105,110,115,120,125,130,135,140,145,150], "tickSize": -12, "labels": false, "title": null}},
     "y": {"field": "phi", "type": "quantitative", "scale": {"domain": [-180, 180], "nice": false, "zero": false},
      "axis": {"orient": "left", "tickCount": 36, "tickSize": -6, "labels": false, "title": null}},
     "color": {"field": "s", "type": "nominal", "scale": {"domain": ["g", "r", "b", "p"], "range": ["#2e9444", "#e8251d", "#6a7ad0", "#8b5aa8"]}, "legend": null},
     "shape": {"field": "s", "type": "nominal", "scale": {"domain": ["g", "r", "b", "p"], "range": ["diamond", "circle", "square", "circle"]}, "legend": null},
     "order": {"field": "s", "type": "nominal"}
    }},
   {"data": {"name": "black"},
    "mark": {"type": "circle", "size": 22, "color": "#000", "opacity": 1, "clip": true},
    "encoding": {
     "x": {"field": "r", "type": "quantitative", "scale": {"domain": [57, 151], "nice": false, "zero": false},
      "axis": {"orient": "bottom", "tickCount": 94, "tickSize": -6, "labels": false, "title": null}},
     "y": {"field": "phi", "type": "quantitative", "scale": {"domain": [-180, 180], "nice": false, "zero": false},
      "axis": {"orient": "right", "values": [-160,-140,-120,-100,-80,-60,-40,-20,0,20,40,60,80,100,120,140,160], "tickSize": -12, "labels": false, "title": null}}
    }},
   {"data": {"name": "ann"}, "transform": [{"filter": "datum.panel == 'B' && datum.kind == 'letter'"}],
    "mark": {"type": "text", "fontSize": 42, "font": "Liberation Sans", "color": "#111"},
    "encoding": {
     "x": {"field": "x", "type": "quantitative", "scale": {"domain": [57, 151], "nice": false, "zero": false}, "axis": null},
     "y": {"field": "y", "type": "quantitative", "scale": {"domain": [-180, 180], "nice": false, "zero": false},
      "axis": {"orient": "right", "tickCount": 36, "tickSize": -6, "labels": false, "title": null}},
     "text": {"field": "t"}
    }},
   {"data": {"name": "ann"}, "transform": [{"filter": "datum.panel == 'B' && datum.kind == 'name'"}],
    "mark": {"type": "text", "fontSize": 23, "font": "Liberation Sans", "color": "#111"},
    "encoding": {
     "x": {"field": "x", "type": "quantitative", "scale": {"domain": [57, 151], "nice": false, "zero": false}, "axis": null},
     "y": {"field": "y", "type": "quantitative", "scale": {"domain": [-180, 180], "nice": false, "zero": false}, "axis": null},
     "text": {"field": "t"}
    }},
   {"data": {"name": "ann"}, "transform": [{"filter": "datum.panel == 'B' && datum.kind == 'small'"}],
    "mark": {"type": "text", "fontSize": 17, "font": "Liberation Sans", "color": "#111"},
    "encoding": {
     "x": {"field": "x", "type": "quantitative", "scale": {"domain": [57, 151], "nice": false, "zero": false}, "axis": null},
     "y": {"field": "y", "type": "quantitative", "scale": {"domain": [-180, 180], "nice": false, "zero": false}, "axis": null},
     "text": {"field": "t"}
    }}
  ]
 },
 {
  "width": 580, "height": 267,
  "resolve": {"axis": {"x": "independent", "y": "independent"}},
  "layer": [
   {"data": {"name": "regions"},
    "mark": {"type": "rect", "color": "#d4d4d4"},
    "encoding": {
     "x": {"field": "start", "type": "quantitative", "scale": {"domain": [57, 151], "nice": false, "zero": false},
      "axis": {"orient": "top", "values": [60,65,70,75,80,85,90,95,100,105,110,115,120,125,130,135,140,145,150], "tickSize": -12, "labels": false, "title": null}},
     "x2": {"field": "end"}
    }},
   {"data": {"name": "series"},
    "mark": {"type": "errorbar", "ticks": {"size": 6}, "thickness": 1.3, "clip": true},
    "encoding": {
     "x": {"field": "r", "type": "quantitative", "scale": {"domain": [57, 151], "nice": false, "zero": false},
      "axis": {"orient": "top", "tickCount": 94, "tickSize": -6, "labels": false, "title": null}},
     "y": {"field": "psi", "type": "quantitative", "scale": {"domain": [-180, 180], "nice": false, "zero": false},
      "axis": {"orient": "left", "values": [-160,-140,-120,-100,-80,-60,-40,-20,0,20,40,60,80,100,120,140,160], "labelExpr": "datum.value % 40 == 0 ? datum.label : ''", "tickSize": -12, "labelPadding": 5, "labelFontSize": 18, "title": "Ψ(°)", "titleX": -24}},
     "yError": {"field": "qe"},
     "color": {"field": "s", "type": "nominal", "scale": {"domain": ["g", "r", "b", "p"], "range": ["#2e9444", "#e8251d", "#6a7ad0", "#8b5aa8"]}, "legend": null}
    }},
   {"data": {"name": "series"},
    "mark": {"type": "point", "filled": false, "size": 26, "strokeWidth": 1.3, "clip": true},
    "encoding": {
     "x": {"field": "r", "type": "quantitative", "scale": {"domain": [57, 151], "nice": false, "zero": false},
      "axis": {"orient": "bottom", "values": [60,65,70,75,80,85,90,95,100,105,110,115,120,125,130,135,140,145,150], "tickSize": -10, "labelPadding": 9, "labelFontSize": 16, "title": "Residue number", "titleFontSize": 27, "titlePadding": 3}},
     "y": {"field": "psi", "type": "quantitative", "scale": {"domain": [-180, 180], "nice": false, "zero": false},
      "axis": {"orient": "left", "tickCount": 36, "tickSize": -6, "labels": false, "title": null}},
     "color": {"field": "s", "type": "nominal", "scale": {"domain": ["g", "r", "b", "p"], "range": ["#2e9444", "#e8251d", "#6a7ad0", "#8b5aa8"]}, "legend": null},
     "shape": {"field": "s", "type": "nominal", "scale": {"domain": ["g", "r", "b", "p"], "range": ["diamond", "circle", "square", "circle"]}, "legend": null},
     "order": {"field": "s", "type": "nominal"}
    }},
   {"data": {"name": "black"},
    "mark": {"type": "circle", "size": 22, "color": "#000", "opacity": 1, "clip": true},
    "encoding": {
     "x": {"field": "r", "type": "quantitative", "scale": {"domain": [57, 151], "nice": false, "zero": false},
      "axis": {"orient": "bottom", "tickCount": 94, "tickSize": -5, "labels": false, "title": null}},
     "y": {"field": "psi", "type": "quantitative", "scale": {"domain": [-180, 180], "nice": false, "zero": false},
      "axis": {"orient": "right", "values": [-160,-140,-120,-100,-80,-60,-40,-20,0,20,40,60,80,100,120,140,160], "tickSize": -12, "labels": false, "title": null}}
    }},
   {"data": {"name": "ann"}, "transform": [{"filter": "datum.panel == 'C'"}],
    "mark": {"type": "text", "fontSize": 42, "font": "Liberation Sans", "color": "#111"},
    "encoding": {
     "x": {"field": "x", "type": "quantitative", "scale": {"domain": [57, 151], "nice": false, "zero": false}, "axis": null},
     "y": {"field": "y", "type": "quantitative", "scale": {"domain": [-180, 180], "nice": false, "zero": false},
      "axis": {"orient": "right", "tickCount": 36, "tickSize": -6, "labels": false, "title": null}},
     "text": {"field": "t"}
    }}
  ]
 }
]
}
